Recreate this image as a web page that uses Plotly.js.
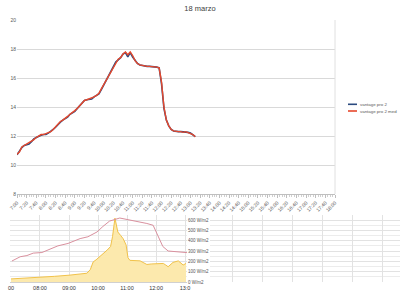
<!DOCTYPE html>
<html>
<head>
<meta charset="utf-8">
<script src="https://cdn.plot.ly/plotly-3.0.1.min.js"></script>
<style>html,body{margin:0;padding:0;background:#fff}#chart{width:400px;height:290px}</style>
</head>
<body>
<div id="chart"></div>
<script>
// ---- main chart data (18 marzo) ----
const chartTitle = '18 marzo';
const seriesNames = ['vantage pro 2', 'vantage pro 2 med'];
const times = ['07:00','07:05','07:10','07:15','07:20','07:25','07:30','07:35','07:40','07:45','07:50','07:55',
  '08:00','08:05','08:10','08:15','08:20','08:25','08:30','08:35','08:40','08:45','08:50','08:55',
  '09:00','09:05','09:10','09:15','09:20','09:25','09:30','09:35','09:40','09:45','09:50','09:55',
  '10:00','10:05','10:10','10:15','10:20','10:25','10:30','10:35','10:40','10:45','10:50','10:55',
  '11:00','11:05','11:10','11:15','11:20','11:25','11:30','11:35','11:40','11:45','11:50','11:55',
  '12:00','12:05','12:10','12:15','12:20','12:25','12:30','12:35','12:40','12:45','12:50','12:55',
  '13:00','13:05','13:10'];
const vantage = [10.70,10.95,11.20,11.35,11.40,11.45,11.60,11.80,11.90,12.00,12.05,12.10,
  12.10,12.20,12.30,12.45,12.60,12.80,12.95,13.10,13.20,13.30,13.50,13.60,
  13.70,13.90,14.10,14.30,14.45,14.50,14.50,14.55,14.70,14.80,14.90,15.20,
  15.50,15.80,16.10,16.40,16.80,17.10,17.25,17.40,17.65,17.75,17.45,17.75,
  17.45,17.20,17.00,16.90,16.85,16.85,16.80,16.80,16.80,16.80,16.75,16.70,
  15.60,13.90,13.10,12.70,12.45,12.35,12.30,12.30,12.30,12.30,12.30,12.25,
  12.20,12.05,11.95];
const vantageMed = [10.75,10.90,11.25,11.35,11.40,11.50,11.60,11.75,11.90,12.00,12.10,12.10,
  12.15,12.20,12.30,12.45,12.65,12.80,13.00,13.10,13.20,13.35,13.50,13.60,
  13.75,13.90,14.10,14.30,14.45,14.50,14.55,14.60,14.70,14.80,14.95,15.25,
  15.55,15.85,16.10,16.45,16.80,17.10,17.30,17.40,17.65,17.80,17.60,17.80,
  17.55,17.20,17.00,16.90,16.85,16.85,16.80,16.80,16.80,16.75,16.75,16.70,
  15.70,14.00,13.10,12.70,12.45,12.35,12.30,12.30,12.30,12.25,12.30,12.25,
  12.20,12.10,11.95];

// ---- pasted station chart data ----
const solarTimes = ['07:00','07:30','08:00','08:30','09:00','09:20','09:37','09:44','09:50','09:56','10:04','10:12','10:19','10:26','10:30','10:35','10:38','10:41','10:47','10:52','10:58','11:02','11:06','11:15','11:27','11:35','11:41','11:50','12:02','12:15','12:20','12:25','12:35','12:46','12:56','13:02'];
const solarValues = [30,36,44,55,66,74,85,120,195,215,245,275,310,345,440,620,560,485,450,420,360,235,210,205,205,185,170,175,180,180,165,148,190,205,165,180];
const stationTempTimes = ['07:02','07:19','07:33','07:46','08:04','08:21','08:37','08:58','09:23','09:39','09:58','10:10','10:24','10:45','11:06','11:41','11:54','12:08','12:14','12:25','12:50','13:06'];
const stationTemp = [10.7,11.4,11.6,12.0,12.1,12.7,13.2,13.6,14.4,14.7,15.5,16.4,17.3,17.8,17.5,16.9,16.6,14.2,13.1,12.35,12.2,12.07];
const stationTickVals = ['07:00','08:00','09:00','10:00','11:00','12:00','13:00'];
const stationTickText = ['00','08:00','09:00','10:00','11:00','12:00','13:0'];
const radUnit = ' W/m2';

const D = t => '2000-01-01 ' + t;
const colors = ['#2b4a7f', '#e6482c'];

const traces = [
  {x: times.map(D), y: vantage, name: seriesNames[0], type: 'scatter', mode: 'lines',
   line: {color: colors[0], width: 1.6}, xaxis: 'x', yaxis: 'y', hoverinfo: 'skip'},
  {x: times.map(D), y: vantageMed, name: seriesNames[1], type: 'scatter', mode: 'lines',
   line: {color: colors[1], width: 1.4}, xaxis: 'x', yaxis: 'y', hoverinfo: 'skip'},
  {x: solarTimes.map(D), y: solarValues, type: 'scatter', mode: 'lines', fill: 'tozeroy',
   fillcolor: '#fce9ad', line: {color: '#f1c24a', width: 1}, xaxis: 'x2', yaxis: 'y2', hoverinfo: 'skip'},
  {x: stationTempTimes.map(D), y: stationTemp, type: 'scatter', mode: 'lines',
   line: {color: '#d9909e', width: 1}, xaxis: 'x2', yaxis: 'y3', hoverinfo: 'skip'},
  {x: [], y: [], type: 'scatter', xaxis: 'x3', yaxis: 'y4', hoverinfo: 'skip'}
];

const botDomain = [8/290, 75/290];
const layout = {
  width: 400, height: 290, margin: {l: 0, r: 0, t: 0, b: 0},
  paper_bgcolor: '#ffffff', plot_bgcolor: '#ffffff', showlegend: false,
  font: {family: 'Liberation Sans, Arial, sans-serif', size: 5, color: '#595959'},
  title: {text: chartTitle, x: 0.5, xanchor: 'center', y: 1 - 8/290, yanchor: 'middle',
          font: {size: 7.5, color: '#404040'}},
  xaxis: {domain: [17/400, 335/400], anchor: 'y', type: 'date',
          range: [D('07:00'), D('18:00')], tickmode: 'linear', tick0: D('07:00'), dtick: 1200000,
          tickformat: '%-H:%M', tickangle: -45, ticks: 'outside', ticklen: 3, tickcolor: '#bfbfbf',
          showline: true, linecolor: '#bfbfbf', linewidth: 1, showgrid: false, zeroline: false,
          minor: {dtick: 300000, ticks: 'outside', ticklen: 2, tickcolor: '#d0d0d0', showgrid: false},
          tickfont: {size: 5, color: '#595959'}, automargin: false},
  yaxis: {domain: [96/290, 270/290], anchor: 'x', range: [8, 20], dtick: 2,
          gridcolor: '#d9d9d9', gridwidth: 1, showline: false, zeroline: false, ticks: '',
          tickfont: {size: 5, color: '#595959'}, automargin: false},
  xaxis2: {domain: [10/400, 187/400], anchor: 'y2', type: 'date',
           range: [D('06:58'), D('13:04')], tickmode: 'array', tickvals: stationTickVals.map(D),
           ticktext: stationTickText, showgrid: true, gridcolor: '#e2e2e2', ticks: '',
           showline: true, linecolor: '#d0d0d0', zeroline: false, tickangle: 0,
           tickfont: {size: 5.5, color: '#333333'}, automargin: false},
  yaxis2: {domain: botDomain, anchor: 'x2', side: 'right', range: [0, 650], dtick: 100,
           ticksuffix: radUnit, showgrid: true, gridcolor: '#e2e2e2', zeroline: false, ticks: '',
           minor: {dtick: 50, showgrid: true, gridcolor: '#ececec'},
           tickfont: {size: 4.5, color: '#555555'}, automargin: false},
  yaxis3: {domain: botDomain, overlaying: 'y2', anchor: 'x2', range: [7.23, 18.3],
           visible: false, showgrid: false},
  xaxis3: {domain: [210/400, 1], anchor: 'y4', range: [0, 190/30], tickmode: 'linear',
           tick0: 22/30, dtick: 1, showgrid: true, gridcolor: '#e2e2e2', showticklabels: false,
           ticks: '', zeroline: false, showline: false},
  yaxis4: {domain: botDomain, anchor: 'x3', range: [0, 650], dtick: 100, showgrid: true,
           gridcolor: '#e2e2e2', minor: {dtick: 50, showgrid: true, gridcolor: '#ececec'},
           showticklabels: false, ticks: '', zeroline: false, showline: false},
  shapes: [
    {type: 'line', xref: 'paper', yref: 'paper', x0: 335/400, x1: 335/400,
     y0: 96/290, y1: 270/290, line: {color: '#e0e0e0', width: 1}},
    {type: 'line', xref: 'paper', yref: 'paper', x0: 348/400, x1: 357/400,
     y0: (290-104.3)/290, y1: (290-104.3)/290, line: {color: colors[0], width: 1.6}},
    {type: 'line', xref: 'paper', yref: 'paper', x0: 348/400, x1: 357/400,
     y0: (290-111)/290, y1: (290-111)/290, line: {color: colors[1], width: 1.6}}
  ],
  annotations: [
    {xref: 'paper', yref: 'paper', x: 358/400, y: (290-104.3)/290, xanchor: 'left', yanchor: 'middle',
     text: seriesNames[0], showarrow: false, font: {size: 4.4, color: '#595959'}},
    {xref: 'paper', yref: 'paper', x: 358/400, y: (290-111)/290, xanchor: 'left', yanchor: 'middle',
     text: seriesNames[1], showarrow: false, font: {size: 4.4, color: '#595959'}}
  ]
};

Plotly.newPlot('chart', traces, layout, {staticPlot: true, displayModeBar: false});
</script>
</body>
</html>
